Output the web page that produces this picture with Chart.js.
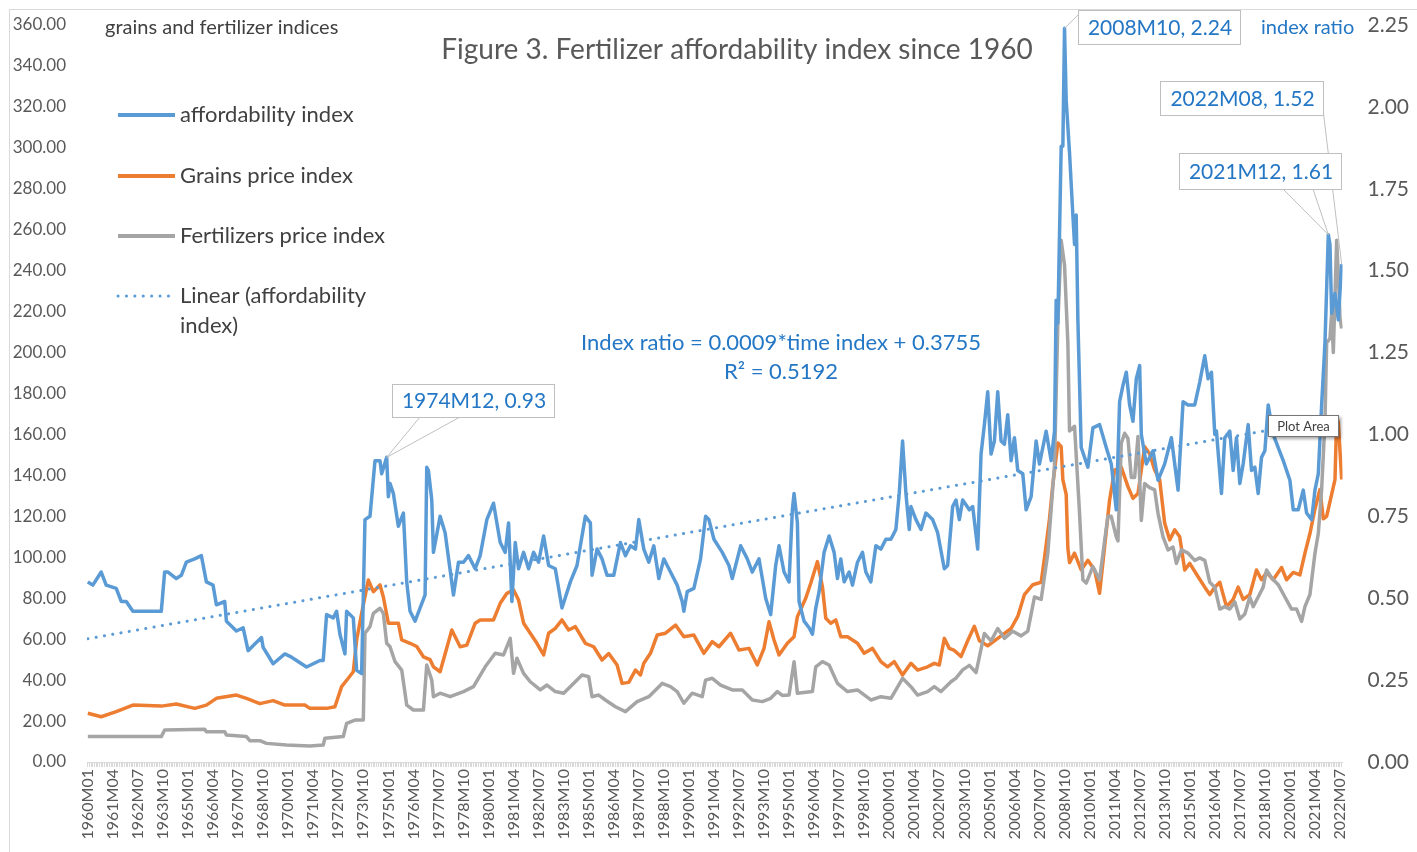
<!DOCTYPE html>
<html lang="en">
<head>
    <meta charset="UTF-8">
    <title>Fertilizer affordability index since 1960</title>
    <script src="https://cdn.jsdelivr.net/npm/chart.js"></script>
    <style>
        html, body { margin: 0; padding: 0; background: #ffffff; }
        .chart-box { position: relative; width: 1417px; height: 852px; }
    </style>
</head>
<body>
    <div class="chart-box"><canvas id="chart"></canvas></div>

    <script>
        // x positions are months counted from 1960M01 (= 0) up to 2022M08 (= 751)
        const xTickLabels = ['1960M01','1961M04','1962M07','1963M10','1965M01','1966M04','1967M07','1968M10',
            '1970M01','1971M04','1972M07','1973M10','1975M01','1976M04','1977M07','1978M10','1980M01','1981M04',
            '1982M07','1983M10','1985M01','1986M04','1987M07','1988M10','1990M01','1991M04','1992M07','1993M10',
            '1995M01','1996M04','1997M07','1998M10','2000M01','2001M04','2002M07','2003M10','2005M01','2006M04',
            '2007M07','2008M10','2010M01','2011M04','2012M07','2013M10','2015M01','2016M04','2017M07','2018M10',
            '2020M01','2021M04','2022M07'];
        const firstMonth = '1960M01';
        const lastMonth = '2022M08';

        // affordability index (fertilizer / grains ratio, right axis)
        const affordMonth = [0,3,8,11,17,20,23,27,35,44,46,48,53,56,59,64,68,71,75,77,82,83,89,93,96,100,
            104,105,111,118,122,131,139,141,143,147,149,151,154,155,159,161,164,166,169,172,175,176,179,180,
            181,183,186,189,191,193,196,202,203,204,206,207,211,214,219,222,225,228,232,235,239,243,247,250,
            252,254,256,258,261,264,267,270,273,276,280,284,289,293,298,301,302,305,308,311,315,319,322,325,
            328,330,333,336,339,342,345,349,353,356,357,359,363,367,370,372,375,380,384,386,391,395,398,402,
            404,406,409,412,414,417,420,422,423,425,426,429,432,434,436,438,441,444,447,449,451,453,456,458,
            461,464,466,469,472,475,478,481,484,486,488,490,492,493,496,499,502,506,509,513,515,518,520,522,
            524,528,530,533,535,537,539,541,543,545,547,549,551,553,555,557,560,562,565,568,570,574,577,579,
            580,581,583,584,585,
            586,588,590,591,592,593,595,597,599,602,606,610,613,616,618,620,622,624,626,628,
            630,631,634,638,641,645,649,653,656,659,663,666,669,671,673,675,676,679,681,684,
            686,688,690,692,695,697,699,701,703,705,707,710,713,716,720,722,725,728,730,733,
            735,737,739,741,743,744,745,747,749,751];
        const affordValue = [0.55,0.54,0.58,0.54,0.53,0.49,0.49,0.46,0.46,0.46,0.58,0.58,0.56,0.57,0.61,0.62,0.63,0.55,0.54,0.48,0.49,0.43,0.40,0.41,0.34,0.36,
            0.38,0.35,0.30,0.33,0.32,0.29,0.31,0.31,0.45,0.44,0.46,0.39,0.33,0.46,0.44,0.28,0.27,0.74,0.75,0.92,0.92,0.88,0.93,0.81,
            0.85,0.82,0.72,0.76,0.55,0.46,0.43,0.51,0.90,0.89,0.80,0.64,0.75,0.70,0.51,0.61,0.61,0.63,0.59,0.63,0.74,0.79,0.67,0.64,
            0.73,0.49,0.67,0.59,0.64,0.59,0.64,0.61,0.69,0.60,0.59,0.47,0.55,0.60,0.75,0.73,0.57,0.65,0.62,0.57,0.57,0.67,0.63,0.66,
            0.65,0.74,0.65,0.61,0.66,0.56,0.62,0.58,0.54,0.49,0.46,0.52,0.53,0.62,0.75,0.74,0.68,0.64,0.60,0.56,0.66,0.62,0.58,0.62,
            0.56,0.50,0.45,0.60,0.66,0.58,0.55,0.77,0.82,0.73,0.49,0.43,0.41,0.39,0.47,0.52,0.64,0.69,0.64,0.56,0.62,0.55,0.58,0.54,
            0.61,0.64,0.58,0.55,0.66,0.65,0.68,0.68,0.71,0.82,0.98,0.82,0.71,0.78,0.74,0.71,0.76,0.74,0.70,0.59,0.60,0.78,0.80,0.74,
            0.80,0.77,0.78,0.65,0.94,1.03,1.13,0.94,0.98,1.13,0.98,0.97,1.06,0.92,0.99,0.89,0.88,0.77,0.81,0.98,0.91,1.01,0.92,1.01,
            1.41,1.34,1.88,1.88,2.24,
            2.02,1.86,1.67,1.58,1.67,1.35,0.96,0.93,0.90,1.02,1.03,0.96,0.91,0.77,1.10,1.15,1.19,1.09,1.04,1.17,
            1.21,1.00,0.91,0.95,0.86,0.91,0.99,0.83,1.10,1.09,1.09,1.16,1.24,1.17,1.19,1.00,1.01,0.82,0.99,1.01,
            0.89,0.99,0.85,0.91,1.03,0.89,0.90,0.82,0.93,0.95,1.09,1.00,0.96,0.92,0.86,0.77,0.77,0.83,0.76,0.74,
            0.83,0.88,1.09,1.28,1.61,1.58,1.37,1.43,1.35,1.52];

        // grains price index (left axis)
        const grainsMonth = [0,8,17,27,44,53,64,71,77,89,95,100,103,111,118,130,133,143,148,152,156,159,161,164,168,171,
            175,177,180,186,188,193,197,201,205,207,211,218,223,227,232,235,243,247,251,255,258,261,265,269,273,276,
            280,284,288,292,298,303,308,312,317,320,324,328,331,333,337,341,346,352,357,363,369,374,378,385,390,396,
            401,405,408,411,414,419,423,425,430,433,437,440,442,445,448,451,455,461,465,470,475,479,483,488,493,497,
            503,507,510,513,516,519,523,527,531,534,539,545,553,557,561,566,571,573,576,578,581,583,584,586,587,588,
            591,595,599,603,606,609,612,615,619,623,626,629,631,633,636,639,642,645,648,651,654,657,660,665,669,
            672,675,678,682,686,689,692,696,700,703,706,710,715,718,722,726,729,732,735,738,740,742,745,747,748,
            749,750,751];
        const grainsValue = [23.8,22.1,24.6,27.8,27.3,28.3,26.2,27.8,31.1,32.7,31.1,29.5,28.5,30.0,27.8,27.8,26.2,26.2,27.0,36.8,40.9,44.1,59.6,72.6,88.9,83.2,
            86.5,80.6,67.8,67.8,59.6,58.0,56.4,51.4,50.0,46.5,44.1,64.5,56.3,57.1,67.8,69.4,69.4,77.5,82.4,84.0,79.1,67.8,62.9,58.0,52.3,62.9,
            65.3,69.4,64.5,66.1,58.0,56.3,49.8,53.0,47.4,38.4,38.9,44.9,42.5,48.2,53.1,62.0,62.9,66.9,61.2,62.0,53.1,58.8,56.3,62.9,54.7,55.5,
            47.4,55.5,68.5,59.6,52.3,58.0,61.2,71.0,80.0,87.3,97.9,85.6,70.2,67.8,69.4,61.2,61.2,58.0,53.1,55.5,49.0,46.5,49.0,42.5,48.2,44.9,
            46.5,48.2,47.4,60.4,55.5,54.5,51.5,59.2,66.3,59.2,56.8,60.4,65.2,71.1,81.8,86.6,87.8,99.7,118.8,135.5,155.8,154.0,137.9,130.7,104.5,97.4,
            102.0,93.8,98.5,93.8,82.4,105.0,128.0,142.6,144.0,134.5,128.8,131.2,142.6,154.0,150.6,142.6,137.8,116.6,108.5,113.4,110.0,93.8,97.0,90.5,85.4,
            81.8,85.4,87.8,75.9,79.4,85.4,79.4,81.8,93.8,89.0,92.6,89.0,95.0,89.0,92.6,91.4,102.0,111.6,123.6,133.1,118.8,120.0,130.7,137.9,168.0,
            166.0,152.0,138.0];

        // fertilizers price index (left axis)
        const fertMonth = [0,44,46,70,71,82,83,95,97,103,107,119,133,141,142,153,155,160,165,166,169,171,175,177,179,181,
            184,188,191,195,201,203,206,207,211,217,225,231,238,244,249,253,255,257,261,265,271,275,280,285,290,296,
            300,302,306,310,316,322,329,336,344,349,353,357,362,368,370,374,379,386,392,398,404,409,413,416,420,423,
            425,434,436,440,444,449,455,461,469,475,481,484,488,493,497,503,507,511,517,520,524,528,532,537,541,545,
            549,554,559,563,
            567,571,575,579,581,583,585,587,588,591,594,596,598,602,606,609,611,613,616,617,
            619,621,623,625,627,629,631,633,636,639,641,644,647,650,652,655,659,663,666,669,
            672,675,678,681,684,687,690,693,696,698,701,704,706,709,713,717,721,724,727,729,732,735,737,739,741,742,
            744,745,746,748,749,750,751];
        const fertValue = [12.4,12.4,15.6,16.0,14.8,14.8,13.2,12.4,10.4,10.4,9.1,8.3,7.8,8.3,11.6,12.4,18.9,20.5,20.5,62.9,66.1,72.6,75.1,72.6,58.0,56.3,
            49.0,44.9,27.8,25.4,25.4,47.4,40.0,31.9,33.6,31.9,34.4,36.8,46.5,53.1,52.3,60.4,43.3,50.7,43.3,39.2,35.2,37.6,34.4,33.6,37.6,42.5,
            41.7,31.9,32.7,30.3,27.0,24.6,29.5,31.9,38.4,36.8,34.4,28.7,33.6,31.9,40.0,40.9,37.6,35.2,35.2,30.3,29.5,31.1,34.4,32.5,32.7,49.0,
            33.6,34.4,46.5,49.0,47.4,38.4,34.4,35.2,30.3,31.9,31.1,35.2,40.9,36.8,32.7,34.4,36.8,34.4,39.2,41.0,45.0,47.2,43.7,62.8,59.2,65.2,
            60.4,63.9,61.6,63.9,
            80.6,79.4,102.0,145.0,214.2,254.8,242.8,204.7,161.7,164.0,121.6,89.0,87.4,95.4,89.0,108.0,120.0,120.0,110.0,108.0,
            155.7,160.6,158.0,139.0,139.0,159.0,118.0,136.0,134.0,132.9,121.5,110.0,103.6,105.0,97.0,103.6,102.0,98.5,99.7,98.5,
            87.8,85.4,74.7,75.9,74.7,78.2,69.9,72.3,80.6,75.9,80.6,85.4,93.8,90.0,86.6,80.6,74.7,74.7,68.7,75.9,81.8,102.0,111.6,133.1,166.5,204.7,
            207.0,219.0,200.0,254.8,238.0,216.6,211.8];

        // linear trend of the affordability index, from the printed equation
        const trendMonth = [0, 751];
        const trendValue = [0.3764, 1.0523];
        const trendEquation = 'Index ratio = 0.0009*time index + 0.3755';
        const trendR2 = 'R² = 0.5192';

        // labelled points of the affordability index
        const calloutMonths = ['2008M10', '2022M08', '2021M12', '1974M12'];

        const FONT = 'Lato, "Liberation Sans", sans-serif';
        const BLUE = '#5B9BD5';
        const ORANGE = '#ED7D31';
        const GREY = '#A5A5A5';
        const LABEL_BLUE = '#2477C5';

        function toMonth(label) {
            return (parseInt(label.slice(0, 4)) - 1960) * 12 + parseInt(label.slice(5)) - 1;
        }
        function monthName(m) {
            const y = 1960 + Math.floor(m / 12);
            return y + 'M' + String(m % 12 + 1).padStart(2, '0');
        }
        function points(months, values) {
            return months.map((m, i) => ({ x: m, y: values[i] }));
        }
        function valueAt(months, values, m) {
            return values[months.indexOf(m)];
        }

        const tickSet = new Set(xTickLabels.map(toMonth));
        const lastIndex = toMonth(lastMonth);

        // titles, legend, callouts and trend equation
        const decor = {
            id: 'decor',
            afterDraw(chart) {
                const ctx = chart.ctx;
                const xs = chart.scales.x;
                const yR = chart.scales.yR;
                ctx.save();

                ctx.strokeStyle = '#d9d9d9';
                ctx.lineWidth = 1;
                ctx.strokeRect(9.5, 9.5, 1500, 1000);

                ctx.textBaseline = 'middle';
                ctx.fillStyle = '#404040';
                ctx.textAlign = 'left';
                ctx.font = '20px ' + FONT;
                ctx.fillText('grains and fertilizer indices', 105, 28);

                ctx.fillStyle = '#595959';
                ctx.textAlign = 'center';
                ctx.font = '28px ' + FONT;
                ctx.fillText('Figure 3. Fertilizer affordability index since 1960', 737, 50);

                ctx.fillStyle = LABEL_BLUE;
                ctx.textAlign = 'left';
                ctx.font = '20px ' + FONT;
                ctx.fillText('index ratio', 1261, 28);

                // legend
                const legend = [
                    { text: ['affordability index'], color: BLUE, y: 115 },
                    { text: ['Grains price index'], color: ORANGE, y: 176 },
                    { text: ['Fertilizers price index'], color: GREY, y: 236 },
                    { text: ['Linear (affordability', 'index)'], color: BLUE, y: 296, dotted: true }
                ];
                ctx.font = '22px ' + FONT;
                legend.forEach(item => {
                    ctx.beginPath();
                    ctx.strokeStyle = item.color;
                    ctx.lineWidth = item.dotted ? 3 : 4;
                    ctx.lineCap = item.dotted ? 'round' : 'butt';
                    ctx.setLineDash(item.dotted ? [0.1, 8.3] : []);
                    ctx.moveTo(118, item.y);
                    ctx.lineTo(175, item.y);
                    ctx.stroke();
                    ctx.setLineDash([]);
                    ctx.fillStyle = '#404040';
                    item.text.forEach((t, i) => ctx.fillText(t, 180, item.y + i * 30));
                });

                // trend equation
                ctx.fillStyle = LABEL_BLUE;
                ctx.textAlign = 'center';
                ctx.font = '22px ' + FONT;
                ctx.fillText(trendEquation, 781, 343);
                ctx.fillText(trendR2, 781, 372);

                // data callouts
                const boxes = [
                    { x: 1078, y: 10, w: 162, h: 34, from: [[1079, 14]] },
                    { x: 1160, y: 81, w: 163, h: 34, from: [[1322, 101]] },
                    { x: 1179, y: 153, w: 162, h: 36, from: [[1283, 189], [1313, 189]] },
                    { x: 392, y: 384, w: 162, h: 33, from: [[420, 417], [460, 417]] }
                ];
                ctx.font = '21px ' + FONT;
                calloutMonths.forEach((label, i) => {
                    const m = toMonth(label);
                    const v = valueAt(affordMonth, affordValue, m);
                    const px = xs.getPixelForValue(m);
                    const py = yR.getPixelForValue(v);
                    const b = boxes[i];
                    ctx.strokeStyle = '#bfbfbf';
                    ctx.lineWidth = 1;
                    b.from.forEach(p => {
                        ctx.beginPath();
                        ctx.moveTo(p[0], p[1]);
                        ctx.lineTo(px, py);
                        ctx.stroke();
                    });
                    ctx.fillStyle = '#ffffff';
                    ctx.fillRect(b.x, b.y, b.w, b.h);
                    ctx.strokeRect(b.x + 0.5, b.y + 0.5, b.w, b.h);
                    ctx.fillStyle = LABEL_BLUE;
                    ctx.fillText(label + ', ' + v.toFixed(2), b.x + b.w / 2 + 1, b.y + b.h / 2 + 1);
                });

                // hover tip left in the picture
                ctx.shadowColor = 'rgba(0,0,0,0.35)';
                ctx.shadowBlur = 3;
                ctx.shadowOffsetX = 2;
                ctx.shadowOffsetY = 2;
                ctx.fillStyle = '#ffffff';
                ctx.fillRect(1268, 415, 71, 22);
                ctx.shadowColor = 'transparent';
                ctx.strokeStyle = '#767676';
                ctx.strokeRect(1268.5, 415.5, 70, 21);
                ctx.fillStyle = '#404040';
                ctx.font = '13px ' + FONT;
                ctx.fillText('Plot Area', 1303.5, 426.5);

                ctx.restore();
            }
        };

        const lineStyle = { pointRadius: 0, borderWidth: 3.5, tension: 0, fill: false, borderJoinStyle: 'round' };

        // fixed axis sizes so the plot area sits where the original one does
        function fixWidth(w) {
            return axis => {
                axis.width = w;
                axis.paddingTop = 0;
                axis.paddingBottom = 0;
            };
        }

        new Chart(document.getElementById('chart'), {
            type: 'line',
            data: {
                datasets: [
                    Object.assign({ label: 'affordability index', data: points(affordMonth, affordValue),
                        borderColor: BLUE, yAxisID: 'yR' }, lineStyle),
                    Object.assign({ label: 'Linear (affordability index)', data: points(trendMonth, trendValue),
                        borderColor: BLUE, yAxisID: 'yR' }, lineStyle, { borderWidth: 3, borderDash: [0.1, 8.3], borderCapStyle: 'round' }),
                    Object.assign({ label: 'Fertilizers price index', data: points(fertMonth, fertValue),
                        borderColor: GREY, yAxisID: 'yL' }, lineStyle),
                    Object.assign({ label: 'Grains price index', data: points(grainsMonth, grainsValue),
                        borderColor: ORANGE, yAxisID: 'yL' }, lineStyle)
                ]
            },
            options: {
                responsive: true,
                maintainAspectRatio: false,
                animation: false,
                events: [],
                layout: { padding: { top: 25, left: 0, right: 0, bottom: 0 } },
                plugins: { legend: { display: false }, tooltip: { enabled: false } },
                scales: {
                    x: {
                        type: 'linear',
                        min: toMonth(firstMonth) - 0.5,
                        max: lastIndex + 0.5,
                        afterBuildTicks: axis => {
                            const ticks = [];
                            for (let m = toMonth(firstMonth); m <= lastIndex; m++) ticks.push({ value: m });
                            axis.ticks = ticks;
                        },
                        afterFit: axis => { axis.height = 90; },
                        grid: { display: true, drawOnChartArea: false, drawTicks: true, tickLength: 5, color: '#d9d9d9' },
                        border: { display: true, color: '#d9d9d9' },
                        ticks: {
                            autoSkip: false,
                            minRotation: 90,
                            maxRotation: 90,
                            padding: 2,
                            color: '#595959',
                            font: { family: FONT, size: 16 },
                            callback: v => tickSet.has(v) ? monthName(v) : ''
                        }
                    },
                    yL: {
                        position: 'left',
                        min: 0,
                        max: 360,
                        afterBuildTicks: axis => {
                            const ticks = [];
                            for (let v = 0; v <= 360; v += 20) ticks.push({ value: v });
                            axis.ticks = ticks;
                        },
                        afterFit: fixWidth(87),
                        grid: { display: false, drawTicks: false },
                        border: { display: false },
                        ticks: { padding: 21, color: '#595959', font: { family: FONT, size: 17 }, callback: v => v.toFixed(2) }
                    },
                    yR: {
                        position: 'right',
                        min: 0,
                        max: 2.25,
                        afterBuildTicks: axis => {
                            const ticks = [];
                            for (let i = 0; i <= 9; i++) ticks.push({ value: i * 0.25 });
                            axis.ticks = ticks;
                        },
                        afterFit: fixWidth(74.5),
                        grid: { display: false, drawTicks: false },
                        border: { display: false },
                        ticks: { padding: 25, color: '#595959', font: { family: FONT, size: 21 }, callback: v => v.toFixed(2) }
                    }
                }
            },
            plugins: [decor]
        });
    </script>
</body>
</html>
